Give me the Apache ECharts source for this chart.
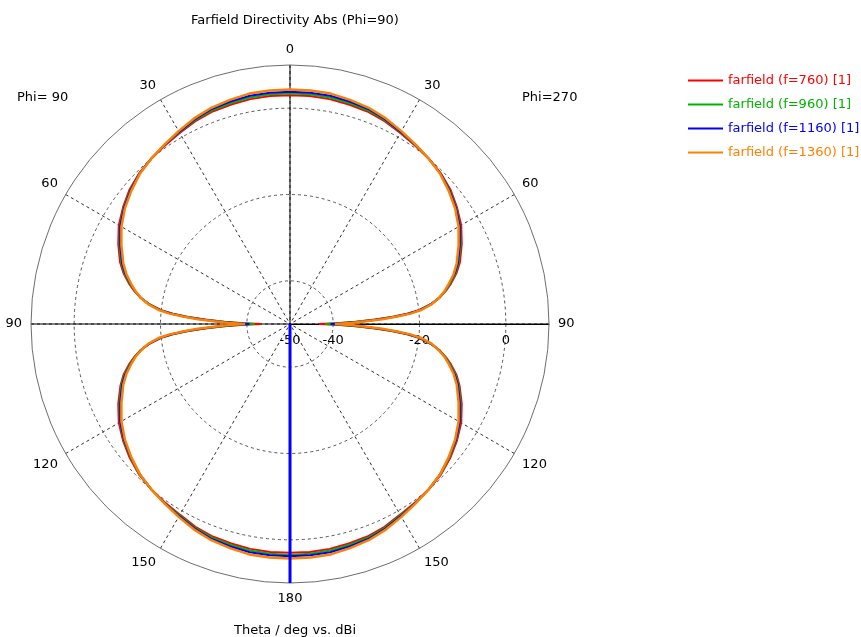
<!DOCTYPE html>
<html>
<head>
<meta charset="utf-8">
<script src="https://cdn.jsdelivr.net/npm/echarts@6/dist/echarts.min.js"></script>
<style>html,body{margin:0;padding:0;background:#fff;}#c{width:861px;height:637px;}</style>
</head>
<body>
<div id="c"></div>
<script>
// Theta (deg) sample points, 0..180 (same cut plotted on the Phi=270 and Phi=90 sides)
const thetaDeg = [0,5,10,15,20,25,30,35,40,45,50,55,60,65,70,73,76,78,80,82,84,85,86,87,88,89,90,
                  91,92,93,94,95,96,98,100,102,104,107,110,115,120,125,130,135,140,145,150,155,160,165,170,175,180];
// Directivity (dBi)
const dir760  = [3.0,3.0,2.9,2.65,2.4,1.85,1.1,0.5,0.0,-0.6,-1.5,-2.8,-4.2,-6.1,-8.1,-9.65,-11.6,-13.1,-14.8,-17.1,-20.2,-22.8,-26.4,-30.3,-34.7,-39.2,-43.3,
                 -39.2,-34.7,-30.3,-26.4,-22.8,-20.2,-17.1,-14.8,-13.1,-11.6,-9.65,-8.2,-6.1,-4.2,-2.8,-1.6,-0.6,0.0,0.5,1.0,1.85,2.4,2.65,2.9,3.0,3.0];
const dir960  = [3.4,3.4,3.3,3.0,2.7,2.1,1.3,0.6,0.0,-0.7,-1.7,-3.0,-4.5,-6.4,-8.4,-9.9,-11.8,-13.2,-14.8,-17.0,-20.0,-22.5,-26.0,-29.8,-34.0,-38.0,-41.8,
                 -38.0,-34.0,-29.8,-26.0,-22.5,-20.0,-17.0,-14.8,-13.2,-11.8,-9.9,-8.4,-6.4,-4.5,-3.0,-1.8,-0.7,0.0,0.6,1.2,2.1,2.7,3.0,3.3,3.4,3.5];
const dir1160 = [3.8,3.8,3.7,3.35,3.0,2.3,1.4,0.65,0.0,-0.7,-1.8,-3.1,-4.6,-6.6,-8.6,-10.1,-12.0,-13.3,-14.9,-16.95,-19.9,-22.2,-25.6,-29.2,-33.2,-37.0,-40.6,
                 -37.0,-33.2,-29.2,-25.6,-22.2,-19.9,-16.95,-14.9,-13.3,-12.0,-10.1,-8.6,-6.6,-4.6,-3.1,-1.9,-0.8,0.0,0.65,1.4,2.3,3.0,3.35,3.7,3.8,3.8];
const dir1360 = [4.3,4.3,4.2,3.75,3.3,2.55,1.6,0.75,0.0,-0.8,-2.0,-3.3,-4.9,-6.9,-8.9,-10.35,-12.15,-13.4,-14.9,-16.8,-19.6,-21.8,-25.1,-28.6,-32.4,-35.9,-39.6,
                 -35.9,-32.4,-28.6,-25.1,-21.8,-19.6,-16.8,-15.0,-13.4,-12.15,-10.35,-8.9,-6.9,-4.9,-3.3,-2.0,-0.8,0.0,0.75,1.6,2.55,3.3,3.75,4.2,4.3,4.3];
const seriesNames = ['farfield (f=760) [1]','farfield (f=960) [1]','farfield (f=1160) [1]','farfield (f=1360) [1]'];
const seriesColors = ['#ff0000','#00b400','#0000ff','#ff8000'];
const seriesValues = [dir760, dir960, dir1160, dir1360];
// main lobe direction marker (theta, deg) for f=1160
const mainLobeTheta = 180;
const radiusTicksShown = [-50,-40,-20,0];

const FONT = 'DejaVu Sans';
// angle axis starts at right (0), clockwise. Phi=270 side (right): v=(theta+270)%360; Phi=90 side (left): v=270-theta
function rightV(t){ return (t + 270) % 360; }
function leftV(t){ return 270 - t; }

function buildCurve(vals){
  const pts = [];
  for (let i = 0; i < thetaDeg.length; i++) pts.push([vals[i], rightV(thetaDeg[i])]);
  for (let i = thetaDeg.length - 1; i >= 0; i--) pts.push([vals[i], leftV(thetaDeg[i])]);
  return pts;
}

const series = seriesNames.map((n, k) => ({
  name: n, type: 'line', coordinateSystem: 'polar', polarIndex: 0,
  showSymbol: false, symbol: 'none', smooth: false,
  lineStyle: { color: seriesColors[k], width: k === 3 ? 2.5 : 2 },
  itemStyle: { color: seriesColors[k] },
  data: buildCurve(seriesValues[k]), z: 3 + k
}));
series.push({
  name: 'mainlobe', type: 'line', coordinateSystem: 'polar', polarIndex: 0,
  showSymbol: false, symbol: 'none',
  lineStyle: { color: '#0000ff', width: 3 },
  data: [[-50, rightV(mainLobeTheta)], [10, rightV(mainLobeTheta)]], z: 10
});

const txt = { fontFamily: FONT, fontSize: 13, fontWeight: 'normal', color: '#000' };
const option = {
  animation: false,
  backgroundColor: '#fff',
  title: [
    { text: 'Farfield Directivity Abs (Phi=90)', left: 290, top: 9, textAlign: 'center', textStyle: txt },
    { text: 'Theta / deg vs. dBi', left: 290, top: 619, textAlign: 'center', textStyle: txt },
    { text: 'Phi= 90', left: 12, top: 86, textStyle: txt },
    { text: 'Phi=270', left: 517, top: 86, textStyle: txt }
  ],
  legend: {
    orient: 'vertical', left: 683, top: 69, itemWidth: 35, itemHeight: 2, icon: 'rect', itemGap: 11,
    textStyle: { fontFamily: FONT, fontSize: 13 },
    data: seriesNames.map((n, k) => ({ name: n, textStyle: { color: seriesColors[k] } }))
  },
  polar: [
    { center: [290, 324], radius: 259 },
    { center: [290, 324], radius: 259 }
  ],
  angleAxis: [
    {
      polarIndex: 0, type: 'value', min: 0, max: 360, interval: 30, startAngle: 0, clockwise: true,
      axisLine: { lineStyle: { color: '#6e6e6e', width: 1 } },
      axisTick: { show: false },
      axisLabel: {
        margin: 9, fontFamily: FONT, fontSize: 13, color: '#000',
        formatter: v => { const s = (v + 90) % 360; return String(s <= 180 ? s : 360 - s); }
      },
      splitLine: { show: true, lineStyle: { color: '#303030', type: [3, 3], width: 1 } }
    },
    {
      polarIndex: 1, type: 'value', min: 0, max: 360, interval: 90, startAngle: 0, clockwise: true,
      axisLine: { show: false }, axisTick: { show: false }, axisLabel: { show: false },
      splitLine: { show: true, lineStyle: { color: '#000', width: 1, type: 'solid' } }
    }
  ],
  radiusAxis: [
    {
      polarIndex: 0, type: 'value', min: -50, max: 10, interval: 10,
      axisLine: { show: true, lineStyle: { color: '#000' } },
      axisTick: { show: false },
      axisLabel: {
        margin: -17, verticalAlign: 'middle', fontFamily: FONT, fontSize: 13, color: '#000',
        formatter: v => radiusTicksShown.indexOf(v) >= 0 ? String(v) : ''
      },
      splitLine: { show: true, lineStyle: { color: ['rgba(0,0,0,0)', '#555'], type: [3, 3], width: 1 } }
    },
    {
      polarIndex: 1, type: 'value', min: -50, max: 10,
      axisLine: { show: false }, axisTick: { show: false }, axisLabel: { show: false }, splitLine: { show: false }
    }
  ],
  series: series
};
const chart = echarts.init(document.getElementById('c'), null, { renderer: 'canvas' });
chart.setOption(option);
</script>
</body>
</html>
